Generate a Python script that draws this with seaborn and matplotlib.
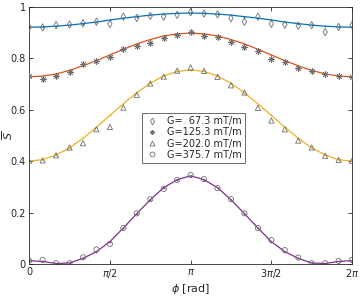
import numpy as np
import pandas as pd
import matplotlib
matplotlib.use("Agg")
import matplotlib.pyplot as plt
from matplotlib.lines import Line2D
import seaborn as sns

# phase steps (multiples of pi/12), 0 .. 2pi
step = list(range(25))

meas_67 = [0.921, 0.920, 0.929, 0.931, 0.936, 0.942, 0.934, 0.962, 0.957, 0.965, 0.962, 0.969,
           0.979, 0.974, 0.971, 0.956, 0.942, 0.962, 0.934, 0.931, 0.927, 0.929, 0.902, 0.922, 0.929]
meas_125 = [0.732, 0.720, 0.732, 0.748, 0.779, 0.790, 0.805, 0.837, 0.846, 0.860, 0.878, 0.890,
            0.904, 0.885, 0.881, 0.863, 0.845, 0.829, 0.799, 0.785, 0.761, 0.752, 0.739, 0.730, 0.726]
meas_202 = [0.402, 0.403, 0.423, 0.453, 0.470, 0.524, 0.533, 0.608, 0.658, 0.702, 0.729, 0.752,
            0.764, 0.751, 0.728, 0.695, 0.667, 0.607, 0.558, 0.524, 0.480, 0.453, 0.421, 0.405, 0.402]
meas_376 = [0.013, 0.016, 0.003, 0.003, 0.026, 0.057, 0.078, 0.140, 0.197, 0.252, 0.292, 0.327,
            0.346, 0.330, 0.295, 0.252, 0.197, 0.140, 0.093, 0.054, 0.025, 0.003, 0.003, 0.012, 0.016]

# fitted curves at the same steps
fit_67 = [0.921, 0.922, 0.925, 0.929, 0.935, 0.941, 0.949, 0.956, 0.962, 0.968, 0.972, 0.975,
          0.976, 0.975, 0.972, 0.968, 0.962, 0.956, 0.949, 0.941, 0.935, 0.929, 0.925, 0.922, 0.921]
fit_125 = [0.728, 0.731, 0.739, 0.753, 0.771, 0.791, 0.813, 0.835, 0.856, 0.873, 0.887, 0.895,
           0.898, 0.895, 0.887, 0.873, 0.856, 0.835, 0.813, 0.791, 0.771, 0.753, 0.739, 0.731, 0.728]
fit_202 = [0.400, 0.406, 0.424, 0.452, 0.489, 0.532, 0.578, 0.623, 0.666, 0.703, 0.731, 0.749,
           0.755, 0.749, 0.731, 0.703, 0.666, 0.623, 0.578, 0.532, 0.489, 0.452, 0.424, 0.406, 0.400]
fit_376 = [0.013, 0.010, 0.002, 0.004, 0.022, 0.048, 0.087, 0.140, 0.196, 0.250, 0.297, 0.328,
           0.343, 0.328, 0.297, 0.250, 0.196, 0.140, 0.087, 0.048, 0.022, 0.004, 0.002, 0.010, 0.013]

labels = ['G=  67.3 mT/m', 'G=125.3 mT/m', 'G=202.0 mT/m', 'G=375.7 mT/m']
colors = ['#0072BD', '#D95319', '#EDB120', '#7E2F8E']
markers = ['d', (8, 2, 0), '^', 'o']

xticks = [0, np.pi / 2, np.pi, 3 * np.pi / 2, 2 * np.pi]
xticklabels = ['0', r'$\pi$/2', r'$\pi$', r'3$\pi$/2', r'2$\pi$']
yticks = [0, 0.2, 0.4, 0.6, 0.8, 1]
yticklabels = ['0', '0.2', '0.4', '0.6', '0.8', '1']

phi = np.array(step) * np.pi / 12
meas = [meas_67, meas_125, meas_202, meas_376]
fits = [fit_67, fit_125, fit_202, fit_376]

sns.set_style('ticks')
plt.rcParams['font.family'] = ['DejaVu Sans']
plt.rcParams['mathtext.fontset'] = 'dejavusans'

fig = plt.figure(figsize=(3.6, 2.99), dpi=100)
ax = fig.add_axes([0.081, 0.117, 0.897, 0.86])

grey = '#6e6e6e'
handles = []
for lab, col, mk, m, f in zip(labels, colors, markers, meas, fits):
    df = pd.DataFrame({'phi': phi, 'meas': m, 'fit': f})
    sns.lineplot(data=df, x='phi', y='fit', color=col, lw=0.9, marker='.',
                 markersize=2.5, markeredgewidth=0, ax=ax, zorder=2)
    if isinstance(mk, tuple):
        sns.scatterplot(data=df, x='phi', y='meas', marker=mk, s=18, color=grey,
                        linewidth=0.6, ax=ax, zorder=3)
    else:
        sns.scatterplot(data=df, x='phi', y='meas', marker=mk, s=14, facecolor='none',
                        edgecolor=grey, linewidth=0.6, ax=ax, zorder=3)
    handles.append(Line2D([], [], linestyle='none', marker=mk, markersize=3.5,
                          mfc='none', mec=grey, mew=0.6, label=lab))

ax.set_xlim(0, 2 * np.pi)
ax.set_ylim(0, 1)
ax.set_xticks(xticks)
ax.set_xticklabels(xticklabels)
ax.set_yticks(yticks)
ax.set_yticklabels(yticklabels)
ax.tick_params(direction='in', length=3, width=0.6, labelsize=7, colors='#262626',
               top=True, right=True, pad=2.5)
for sp in ax.spines.values():
    sp.set_linewidth(0.6)
    sp.set_color('#262626')
    sp.set_visible(True)

ax.set_xlabel(r'$\phi$ [rad]', fontsize=8, color='#262626', labelpad=1)
ax.set_ylabel(r'$\overline{S}$', fontsize=8, color='#262626')
ax.yaxis.set_label_coords(-0.045, 0.5)

leg = ax.legend(handles=handles, loc='upper left', bbox_to_anchor=(0.348, 0.588),
                fontsize=7, frameon=True, fancybox=False, edgecolor='#262626',
                handlelength=1.4, handletextpad=0.9, borderpad=0.35, labelspacing=0.12,
                borderaxespad=0)
leg.get_frame().set_linewidth(0.6)

fig.savefig('out.png', dpi=100)
